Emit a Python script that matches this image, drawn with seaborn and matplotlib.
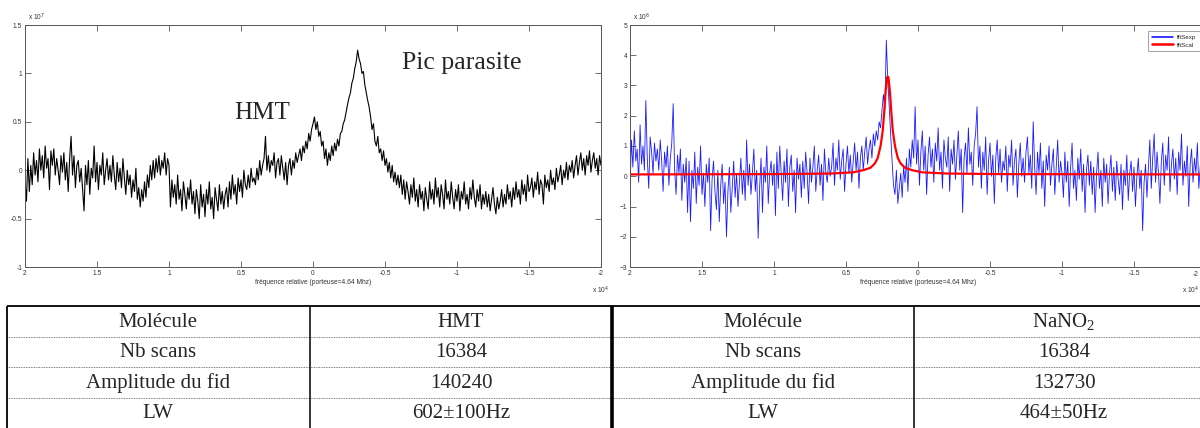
import numpy as np
import matplotlib
matplotlib.use("Agg")
import matplotlib.pyplot as plt
from matplotlib.lines import Line2D
import seaborn as sns

sns.set_theme(style="white")
plt.rcParams['font.family'] = ['Liberation Sans', 'DejaVu Sans']

# ---------------- data ----------------
freq = np.linspace(2, -2, 401)   # relative frequency (x 1e4), sampling grid

hmt_rows = [
    [-0.10, -0.32, 0.12, -0.22, 0.05, -0.15, 0.18, -0.05, 0.10, -0.12, 0.22, 0.00, 0.15, -0.08, 0.25, 0.02, 0.12, -0.20, 0.20, 0.05],
    [0.22, -0.05, 0.12, 0.00, -0.15, 0.15, -0.02, 0.18, -0.10, 0.08, -0.22, 0.12, 0.35, -0.05, 0.15, -0.18, 0.05, 0.10, -0.12, 0.02],
    [-0.20, -0.42, 0.05, -0.15, 0.10, -0.25, 0.02, -0.08, 0.25, -0.12, 0.08, -0.20, 0.05, -0.05, 0.18, -0.15, 0.00, 0.12, -0.10, 0.05],
    [-0.12, 0.15, -0.05, -0.20, 0.08, -0.12, 0.02, -0.18, 0.12, -0.08, -0.25, 0.00, -0.15, -0.05, -0.28, -0.10, -0.22, 0.02, -0.30, -0.18],
    [-0.38, -0.20, -0.32, -0.12, -0.28, -0.05, -0.18, 0.05, -0.10, 0.10, -0.08, 0.12, -0.02, 0.15, -0.05, 0.10, 0.02, 0.18, -0.05, 0.12],
    [0.05, -0.38, -0.10, -0.28, -0.15, -0.35, -0.05, -0.30, -0.20, -0.42, -0.12, -0.25, -0.40, -0.18, -0.30, -0.10, -0.35, -0.22, -0.45, -0.20],
    [-0.32, -0.50, -0.15, -0.38, -0.25, -0.48, -0.20, -0.35, -0.12, -0.40, -0.28, -0.50, -0.18, -0.30, -0.42, -0.15, -0.35, -0.22, -0.40, -0.25],
    [-0.18, -0.38, -0.12, -0.30, -0.05, -0.25, -0.15, -0.35, -0.08, -0.22, -0.10, -0.28, 0.00, -0.15, -0.20, -0.05, -0.18, 0.02, -0.12, -0.08],
    [-0.15, 0.02, -0.10, 0.10, -0.05, 0.05, 0.12, 0.35, 0.00, 0.15, -0.02, 0.10, 0.05, 0.18, -0.08, 0.08, 0.12, -0.05, 0.15, 0.02],
    [-0.10, 0.08, -0.15, 0.05, 0.12, -0.05, 0.10, 0.02, 0.18, 0.08, 0.15, 0.22, 0.10, 0.25, 0.18, 0.30, 0.22, 0.38, 0.30, 0.42],
    [0.48, 0.55, 0.42, 0.50, 0.35, 0.40, 0.25, 0.30, 0.12, 0.22, 0.05, 0.18, 0.10, 0.25, 0.15, 0.28, 0.20, 0.32, 0.25, 0.38],
    [0.40, 0.48, 0.52, 0.60, 0.68, 0.75, 0.80, 0.90, 0.95, 1.05, 1.12, 1.24, 1.15, 1.10, 1.00, 1.02, 0.88, 0.80, 0.72, 0.65],
    [0.55, 0.42, 0.48, 0.30, 0.25, 0.35, 0.18, 0.22, 0.10, 0.20, 0.05, 0.12, -0.02, 0.08, -0.08, 0.05, -0.12, -0.02, -0.15, -0.05],
    [-0.18, -0.05, -0.25, -0.10, -0.30, -0.12, -0.22, -0.35, -0.15, -0.28, -0.08, -0.32, -0.20, -0.38, -0.15, -0.30, -0.22, -0.42, -0.18, -0.30],
    [-0.40, -0.12, -0.30, -0.20, -0.35, -0.08, -0.28, -0.18, -0.38, -0.15, -0.25, -0.40, -0.10, -0.30, -0.22, -0.35, -0.12, -0.28, -0.40, -0.20],
    [-0.32, -0.15, -0.42, -0.22, -0.30, -0.12, -0.35, -0.25, -0.40, -0.18, -0.30, -0.10, -0.28, -0.38, -0.20, -0.32, -0.15, -0.40, -0.25, -0.35],
    [-0.22, -0.38, -0.25, -0.42, -0.30, -0.18, -0.35, -0.45, -0.28, -0.40, -0.32, -0.20, -0.38, -0.25, -0.35, -0.15, -0.30, -0.22, -0.38, -0.18],
    [-0.30, -0.12, -0.28, -0.20, -0.35, -0.10, -0.25, -0.15, -0.32, -0.05, -0.22, -0.18, -0.08, -0.28, -0.12, -0.20, -0.02, -0.25, -0.10, -0.15],
    [-0.35, -0.05, -0.18, -0.10, -0.22, 0.00, -0.15, -0.08, -0.20, 0.02, -0.12, -0.05, 0.05, -0.15, 0.00, -0.08, 0.08, -0.10, 0.05, -0.02],
    [0.10, -0.08, 0.05, 0.15, -0.05, 0.08, 0.18, 0.00, 0.12, -0.05, 0.15, 0.05, 0.20, -0.02, 0.10, 0.18, 0.02, 0.12, -0.05, 0.15],
    [0.05],
]
hmt_signal = [v for row in hmt_rows for v in row]          # x 1e7

nano2_rows = [
    [-0.50, 1.20, 0.30, 1.50, 0.50, 0.90, -0.20, 1.70, 0.40, 1.00, 0.20, 2.50, 0.60, -0.40, 1.30, 0.80, 0.10, 1.10, 0.50, 0.90],
    [0.20, 1.20, 0.50, -0.50, 0.80, 0.30, 1.00, -0.30, 0.60, 1.10, 2.40, 0.20, -0.60, 0.70, 0.10, 0.90, -0.80, 0.40, -0.20, 0.60],
    [-1.20, 0.50, -1.50, 0.20, -0.40, 0.80, -0.90, 0.30, -0.30, 1.00, -0.60, 0.10, -1.00, 0.40, -0.20, 0.60, -1.80, -0.10, 0.50, -0.50],
    [-1.10, 0.20, -1.50, -0.30, 0.40, -0.90, -0.20, -2.00, -0.50, 0.30, -1.20, -0.40, 0.50, -0.70, 0.10, -1.00, -0.20, 0.60, -0.60, 0.20],
    [-0.80, 1.20, -0.30, 0.40, -0.60, 0.10, 0.90, -0.50, 0.20, -2.05, -0.40, 0.60, -1.20, 0.30, -0.20, 1.00, -0.90, 0.10, 0.50, -0.30],
    [0.40, -1.30, 0.80, -0.40, 1.00, 0.10, -0.80, 0.50, -0.20, 0.90, -1.00, 0.30, 0.70, -0.50, 0.20, -1.20, 0.60, -0.10, 0.40, -0.70],
    [0.50, -0.40, 0.80, 0.10, -0.90, 0.60, -0.20, 0.30, 1.00, -0.50, 0.20, 0.70, -0.30, 0.40, -0.80, 0.90, 0.10, -0.20, 0.60, 0.00],
    [0.30, 1.10, -0.30, 0.60, 0.20, 1.20, -0.10, 0.50, 0.90, -0.50, 0.40, 1.00, 0.10, 0.70, -0.20, 0.50, 1.10, 0.20, 0.80, -0.40],
    [0.60, 1.00, 0.20, 0.80, 1.30, 0.40, 0.90, 1.20, 0.60, 1.40, 1.00, 1.50, 1.20, 1.80, 1.60, 2.20, 2.70, 2.20, 4.50, 3.20],
    [2.30, 1.40, 0.50, -0.30, -0.60, 0.20, -0.90, -0.40, 0.10, -0.70, 0.30, -0.20, 0.60, -0.50, 0.90, 0.30, 1.20, 0.60, 2.30, 0.40],
    [1.20, -0.30, 0.80, 1.50, 0.20, 1.00, -0.60, 0.70, 1.30, 0.30, 0.90, -0.20, 1.10, 0.50, 1.60, 0.20, 0.80, -0.40, 1.20, 0.60],
    [0.30, 1.30, -0.50, 0.90, 0.40, 1.20, -0.10, 0.70, 1.50, 0.20, 0.90, -1.20, 0.60, 1.10, 0.10, 1.60, 0.40, 0.80, -0.30, 1.00],
    [1.40, 2.30, 0.30, 1.00, -0.40, 0.80, 0.20, 1.30, -0.60, 0.50, 1.10, 0.00, 0.70, -0.90, 0.60, 1.20, 0.10, 0.90, -0.20, 0.50],
    [0.20, 1.00, -0.50, 0.70, 0.30, 1.20, -0.30, 0.50, 0.90, -0.70, 0.40, 1.10, 0.00, 0.60, -0.20, 0.80, 1.30, 0.10, 0.70, -0.40],
    [1.80, 0.30, -0.60, 0.80, 0.10, 1.10, -0.40, 0.50, -1.00, 0.70, 0.20, 1.00, -0.30, 0.40, 0.90, -0.60, 0.30, 1.20, -0.20, 0.50],
    [0.10, -0.70, 0.80, -0.20, 0.50, -1.00, 0.30, 1.10, -0.40, 0.20, -0.80, 0.60, -0.10, 0.90, -0.50, 0.40, -1.20, 0.20, 0.70, -0.30],
    [0.50, -0.60, 0.30, -1.20, 0.10, 0.80, -0.40, 0.20, -1.00, 0.60, -0.20, 0.40, -0.90, 0.10, 0.70, -0.50, 0.30, -0.80, 0.50, -0.10],
    [-0.60, 0.40, -1.10, 0.20, -0.30, 0.70, -0.80, 0.10, 0.50, -0.50, 0.30, -1.00, 0.00, 0.60, -0.40, 0.20, -1.80, -0.20, 0.40, -0.70],
    [0.30, 1.20, -0.40, 0.60, 1.40, -0.20, 0.80, 0.10, -0.90, 0.50, 1.10, -0.30, 0.70, 0.20, 1.30, -0.50, 0.40, 0.90, -0.10, 0.60],
    [-0.60, 0.80, 0.20, 1.40, -0.30, 0.50, 0.00, 1.00, -1.00, 0.40, 0.90, -0.20, 0.60, 0.10, 1.10, -0.40, 0.30, 0.80, -0.10, 0.50],
    [0.30],
]
nano2_signal = [v for row in nano2_rows for v in row]      # fftSexp

fit_freq = [2.0, 1.0, 0.6, 0.45, 0.38, 0.33, 0.30, 0.28, 0.26, 0.245, 0.235, 0.225, 0.215, 0.21,
            0.205, 0.195, 0.185, 0.175, 0.16, 0.14, 0.12, 0.09, 0.04, -0.03, -0.2, -0.6, -2.0]
fit_signal = [0.06, 0.07, 0.09, 0.13, 0.20, 0.28, 0.42, 0.60, 1.00, 1.50, 2.10, 2.80, 3.25, 3.30,
              3.25, 2.80, 2.10, 1.50, 1.00, 0.60, 0.42, 0.28, 0.20, 0.13, 0.09, 0.07, 0.06]  # fftScal

assert len(hmt_signal) == len(freq) and len(nano2_signal) == len(freq)

x_ticks = [2, 1.5, 1, 0.5, 0, -0.5, -1, -1.5, -2]
x_ticklabels = ["2", "1.5", "1", "0.5", "0", "-0.5", "-1", "-1.5", "-2"]
y1_ticks = [-1, -0.5, 0, 0.5, 1, 1.5]
y1_ticklabels = ["-1", "-0.5", "0", "0.5", "1", "1.5"]
y2_ticks = [-3, -2, -1, 0, 1, 2, 3, 4, 5]

table_left = [["Molécule", "HMT"], ["Nb scans", "16384"],
              ["Amplitude du fid", "140240"], ["LW", "602±100Hz"]]
table_right = [["Molécule", "NaNO$_\\mathregular{2}$"], ["Nb scans", "16384"],
               ["Amplitude du fid", "132730"], ["LW", "464±50Hz"]]

# ---------------- figure ----------------
W, H = 1200, 428
fig = plt.figure(figsize=(W / 100, H / 100), dpi=100)

def px_axes(x0, y0, x1, y1):
    return [x0 / W, 1 - y1 / H, (x1 - x0) / W, (y1 - y0) / H]

ax1 = fig.add_axes(px_axes(25, 25, 601, 267))
ax2 = fig.add_axes(px_axes(630, 25, 1206, 267))

blue, red = "#1a1aff", "red"
sns.lineplot(x=freq, y=hmt_signal, ax=ax1, color="black", lw=0.8,
             estimator=None, sort=False)
sns.lineplot(x=freq, y=nano2_signal, ax=ax2, color=blue, lw=0.6,
             estimator=None, sort=False)
sns.lineplot(x=fit_freq, y=fit_signal, ax=ax2, color=red, lw=1.6,
             estimator=None, sort=False)

tick_color = "#333333"
for ax in (ax1, ax2):
    ax.set_xlim(2, -2)
    ax.set_xticks(x_ticks)
    ax.tick_params(direction="in", top=True, right=True, bottom=True, left=True,
                   length=4, width=0.6, labelsize=4.8, colors="#555555",
                   labelcolor=tick_color, pad=2)
    for s in ax.spines.values():
        s.set_color("#555555")
        s.set_linewidth(0.7)
    ax.set_xlabel("fréquence relative (porteuse=4.64 Mhz)", fontsize=4.8,
                  color=tick_color, labelpad=1.5)
    ax.set_ylabel("")

ax1.set_xticklabels(x_ticklabels)
# right panel runs past the figure edge: keep its last tick label and the
# exponent inside the picture
ax2.set_xticklabels(x_ticklabels[:-1] + [""])
ax2.annotate(x_ticklabels[-1], xy=(1, 0), xycoords="axes fraction",
             xytext=(-5, -3.2), textcoords="offset points", ha="right", va="top",
             fontsize=4.8, color=tick_color)
ax1.text(0.985, -0.095, "x 10$^4$", transform=ax1.transAxes, fontsize=4.8,
         color=tick_color, ha="left", va="center")
ax2.annotate("x 10$^4$", xy=(1, -0.095), xycoords="axes fraction",
             xytext=(-5, 0), textcoords="offset points", ha="right", va="center",
             fontsize=4.8, color=tick_color)

ax1.set_ylim(-1, 1.5)
ax1.set_yticks(y1_ticks)
ax1.set_yticklabels(y1_ticklabels)
ax2.set_ylim(-3, 5)
ax2.set_yticks(y2_ticks)
ax1.text(0.005, 1.01, "x 10$^7$", transform=ax1.transAxes, fontsize=4.8,
         color=tick_color, ha="left", va="bottom")
ax2.text(0.005, 1.01, "x 10$^6$", transform=ax2.transAxes, fontsize=4.8,
         color=tick_color, ha="left", va="bottom")

ax1.text(0.354, 0.59, "HMT", fontsize=18, family="Liberation Serif",
         ha="center", va="center")
ax1.text(-1.03, 1.105, "Pic parasite", fontsize=18.5, family="Liberation Serif",
         ha="center", va="center")

handles = [Line2D([], [], color="blue", lw=1.1), Line2D([], [], color=red, lw=1.8)]
leg = ax2.legend(handles, ["fftSexp", "fftScal"], loc="upper right", fontsize=4.5,
                 frameon=True, fancybox=False, handlelength=3.5, borderaxespad=1.0,
                 borderpad=0.5, labelspacing=0.4, handletextpad=0.6)
leg.get_frame().set_edgecolor("#777777")
leg.get_frame().set_linewidth(0.6)

# ---------------- table ----------------
axt = fig.add_axes([0, 0, 1, 1], zorder=-1)
axt.set_xlim(0, W)
axt.set_ylim(H, 0)
axt.axis("off")
top, row_h = 306, 30.5
x_edges = [7, 310, 612, 914]
axt.hlines(top, 7, W, color="black", lw=1.3)
for i in range(1, 4):
    axt.hlines(top + i * row_h, 7, W, color="#555555", lw=0.6, linestyles=(0, (1, 1)))
for xe, lw in zip(x_edges, [1.3, 1.1, 2.6, 1.1]):
    axt.vlines(xe, top, H, color="black", lw=lw)
col_centers = [158, 461, 763, 1064]
for r in range(4):
    yc = top + (r + 0.5) * row_h + 1
    cells = table_left[r] + table_right[r]
    for c, txt in enumerate(cells):
        axt.text(col_centers[c], yc, txt, fontsize=15, family="Liberation Serif",
                 ha="center", va="center")

fig.savefig("out.png", dpi=100)
